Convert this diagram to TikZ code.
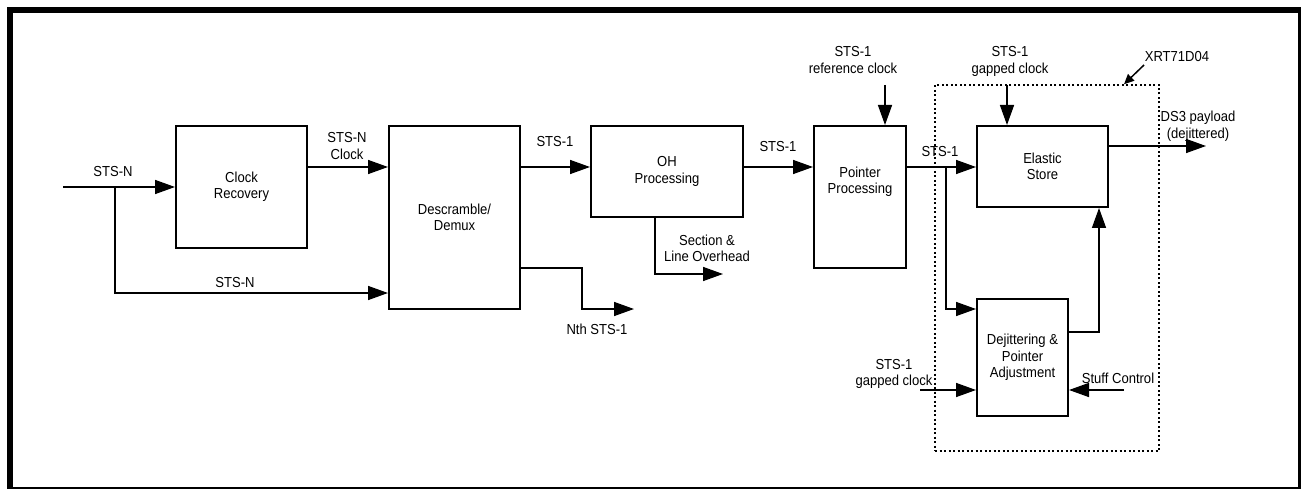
\documentclass[tikz,border=0pt]{standalone}
\usepackage{fontspec}
\setmainfont[FakeStretch=0.9]{Liberation Sans}
\usepackage{tikz}
\usetikzlibrary{arrows.meta}

\begin{document}
\begin{tikzpicture}[x=1pt,y=-1pt,font=\fontsize{14.5}{16.5}\selectfont]
      \useasboundingbox (0,0) rectangle (1301,489);
      \draw [line width=6] (10,10) rectangle (1301,490);
      \tikzstyle {block} = [shape=rectangle, draw=black, line width=2, align=center, inner sep=0];
      \tikzstyle {sig} = [line width=1.5, -{Triangle[length=20,width=14]}];
      \tikzstyle {lbl} = [align=center, inner sep=0];
      \node (cr) [block, minimum width=131, minimum height=122] at (241.5,187) {Clock\\Recovery};
      \node (dm) [block, minimum width=131, minimum height=183] at (454.5,217.5) {Descramble/\\Demux};
      \node (oh) [block, minimum width=152, minimum height=91] at (667,171.5) {OH\\Processing};
      \node (pp) [block, minimum width=92, minimum height=142] at (860,197) {};
      \node (ppt) [lbl] at (860,182) {Pointer\\Processing};
      \node (es) [block, minimum width=131, minimum height=81] at (1042.5,166.5) {Elastic\\Store};
      \node (dj) [block, minimum width=91, minimum height=117] at (1022.5,357.5) {Dejittering \&\\Pointer\\Adjustment};
      \node (chip) [draw, line width=1.5, dash pattern=on 2 off 2.5, minimum width=224, minimum height=366] at (1047,268) {};
      \coordinate (in) at (63,187);
      \coordinate (tap) at (115,187);
      \coordinate (nth) at (634,309);
      \coordinate (soh) at (723,274);
      \coordinate (refclk) at (885,85);
      \coordinate (tap2) at (946,167);
      \coordinate (gclk) at (1007,85);
      \coordinate (ds3) at (1206,146);
      \coordinate (gclk2) at (920,390);
      \coordinate (stuff) at (1124,390);
      \coordinate (xrt) at (1144,65);
      \draw [sig] (in) -- (cr.west);
      \draw [sig] (tap) |- (dm.west |- 0,293);
      \draw [sig] (cr.east |- 0,167) -- (dm.west |- 0,167);
      \draw [sig] (dm.east |- 0,167) -- (oh.west |- 0,167);
      \draw [sig] (dm.east |- 0,268) -- (582,268) |- (nth);
      \draw [sig] (oh.south -| 655,0) |- (soh);
      \draw [sig] (oh.east |- 0,167) -- (pp.west |- 0,167);
      \draw [sig] (refclk) -- (pp.north -| refclk);
      \draw [sig] (pp.east |- 0,167) -- (es.west |- 0,167);
      \draw [sig] (tap2) |- (dj.west |- 0,309);
      \draw [sig] (gclk) -- (es.north -| gclk);
      \draw [sig] (es.east |- ds3) -- (ds3);
      \draw [sig] (dj.east |- 0,332) -| (es.south -| 1099,0);
      \draw [sig] (gclk2) -- (dj.west |- gclk2);
      \draw [sig] (stuff) -- (dj.east |- stuff);
      \draw [line width=1.5, -{Triangle[length=10,width=9]}] (xrt) -- (chip.north -| 1124,0);
      \node (l1) [lbl] at (113,171.5) {STS-N};
      \node (l2) [lbl] at (235,283) {STS-N};
      \node (l3) [lbl] at (347,146) {STS-N\\Clock};
      \node (l4) [lbl] at (555,142) {STS-1};
      \node (l5) [lbl] at (597,329) {Nth STS-1};
      \node (l6) [lbl] at (707,248.5) {Section \&\\Line Overhead};
      \node (l7) [lbl] at (778,147) {STS-1};
      \node (l8) [lbl] at (853,60) {STS-1\\reference clock};
      \node (l9) [lbl] at (940,152) {STS-1};
      \node (l10) [lbl] at (1010,61.5) {STS-1\\gapped clock};
      \node (l11) [lbl] at (1177,57) {XRT71D04};
      \node (l12) [lbl] at (1198,126.5) {DS3 payload\\(dejittered)};
      \node (l13) [lbl] at (894,374) {STS-1\\gapped clock};
      \node (l14) [lbl] at (1118,378) {Stuff Control};
\end{tikzpicture}
\end{document}
